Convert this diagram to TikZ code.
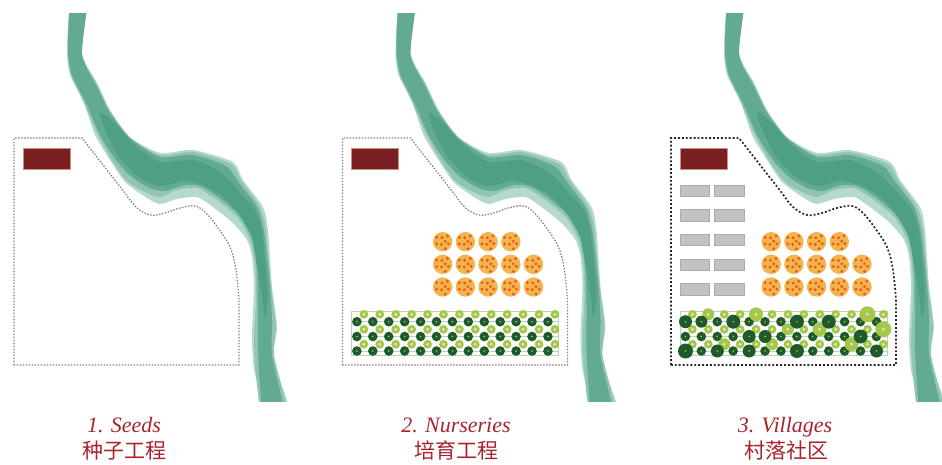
\documentclass[tikz,border=0pt]{standalone}
\usepackage{fontspec}
\setmainfont{Liberation Serif}
\newfontfamily\cjk{Noto Sans CJK SC}
\usetikzlibrary{positioning}

\definecolor{riverA}{HTML}{B6D9CD}
\definecolor{riverB}{HTML}{8FC5B2}
\definecolor{riverC}{HTML}{62AB92}
\definecolor{riverD}{HTML}{4F9F83}
\definecolor{hallred}{HTML}{7A2024}
\definecolor{titlered}{HTML}{A8232C}
\definecolor{treedark}{HTML}{1F5A2A}
\definecolor{treelight}{HTML}{A6C74C}
\definecolor{citrus}{HTML}{F0B64C}

\tikzset{
    river/.pic={
        \begin{scope}
            \clip (55,13) rectangle (300,401);
            \fill[riverA] plot[smooth cycle, tension=0.4] coordinates {
                (71,0) (67,50) (70,75) (83,100) (95,135) (110,160) (125,182) (147,198) (160,204)
                (177,199) (197,197) (213,207) (233,223) (247,240) (252,257) (254,287) (252,337) (254,370) (262,400) (264,420)
                (290,420) (287,400) (273,360) (277,327) (272,287) (268,230) (263,207) (243,180) (233,162)
                (193,150) (160,153) (130,137) (110,110) (97,83) (82,53) (87,0)};
            \fill[riverB] plot[smooth cycle, tension=0.4] coordinates {
                (71,0) (67.5,50) (71,75) (84,103) (97,133) (113,162) (128,182) (147,193) (160,197)
                (177,190) (197,188) (217,200) (238,218) (250,240) (255,265) (256,300) (254,340) (256,375) (263,420)
                (288,420) (284,395) (274,355) (276,325) (271,285) (266,230) (260,207) (241,180) (231,164)
                (193,152) (160,155) (130,138) (110,111) (97,84) (82,54) (87,0)};
            \fill[riverC] plot[smooth cycle, tension=0.4] coordinates {
                (71,0) (68,50) (72,75) (86,103) (100,135) (116,160) (132,177) (150,188) (165,191)
                (185,185) (200,186) (217,196) (238,214) (252,238) (257,270) (258,305) (258,350) (260,385) (264,420)
                (286,420) (281,395) (272,355) (272,320) (270,285) (264,232) (257,207) (239,183) (226,166)
                (193,155) (160,157) (130,138) (110,113) (97,87) (82,55) (87,0)};
            \fill[riverD] plot[smooth cycle, tension=0.4] coordinates {
                (100,113) (106,132) (120,158) (140,178) (160,186) (185,181) (205,186) (222,196) (240,215)
                (252,238) (258,270) (262,295) (265,318)
                (268,295) (266,270) (262,232) (255,210) (238,190) (220,172)
                (193,160) (160,162) (135,145) (112,120)};
        \end{scope}
    },
    site/.pic={
        \draw[pic actions] (14,365) -- (14,138) -- (82,138) -- (125,193)
            -- plot[smooth, tension=0.6] coordinates {(125,193) (136,207) (150,215) (165,213) (180,208) (195,206) (206,213)
                (218,228) (230,247) (236,270) (239,300)}
            -- (239,365) -- cycle;
    },
    hall/.pic={
        \fill[hallred, draw=hallred!60!orange!60] (23,148) rectangle (70,169);
    },
    citrustree/.pic={
        \fill[citrus] (0,0) circle (9.7);
        \foreach \angl/\rad in {20/6, 70/7.5, 115/3, 160/6.5, 215/7.5, 260/4, 310/7.5, 350/2.5}
            \fill[red!55!citrus] (\angl:\rad) circle (1.6);
    },
    orchard/.pic={
        \foreach \col in {0,...,3}
            \pic at ({114.2+22.7*\col},241.7) {citrustree};
        \foreach \col in {0,...,4} {
            \pic at ({114.2+22.7*\col},264.3) {citrustree};
            \pic at ({114.2+22.7*\col},287) {citrustree};
        }
    },
    nursery/.pic={
        \draw[strip, fill=white] (23,311.5) rectangle (230,355.7);
        \foreach \rowy in {321.7,336.5,351}
            \draw[strip] (23,\rowy) -- (230,\rowy);
        \foreach \rowy in {314.3,329.3,344.2}
            \foreach \col in {0,...,12}
                \pic at ({35.4+15.92*\col},\rowy) {lighttree=4.4};
        \foreach \rowy in {321.7,336.5,351}
            \foreach \col in {0,...,12}
                \pic at ({28.4+15.92*\col},\rowy) {darktree=4.8};
    },
    lighttree/.pic={
        \fill[treelight] (0,0) circle (#1);
        \fill[white!65!treelight] (0,0) circle (1.5);
    },
    darktree/.pic={
        \fill[treedark] (0,0) circle (#1);
        \fill[treelight] (0,0) circle (0.9);
    },
    strip/.style={draw=green!30!gray!45, line width=0.8pt},
}

\begin{document}
\begin{tikzpicture}[
        x=1pt, y=-1pt,
        siteline/.style={draw=black!50, line width=1.2pt, dash pattern=on 1.5pt off 1.5pt},
        sitebold/.style={draw=black!85, line width=1.7pt, dash pattern=on 1.9pt off 2pt},
        barn/.style={fill=black!24, draw=black!33, line width=0.8pt},
        title/.style={text=titlered, anchor=base, font=\fontsize{22}{24}\selectfont\itshape},
        subtitle/.style={text=titlered, anchor=base, font=\fontsize{21}{24}\selectfont\cjk}
    ]
    \useasboundingbox (0,0) rectangle (942,464);

    % 1. seeds
    \pic at (0,0) {river};
    \pic[siteline] at (0,0) {site};
    \pic at (0,0) {hall};
    \node[title] (seeds) at (124,432) {1. Seeds};
    \node[subtitle] (seedscn) at (124,458) {种子工程};

    % 2. nurseries
    \pic at (328.5,0) {river};
    \pic[siteline] at (328.5,0) {site};
    \pic at (328.5,0) {hall};
    \pic at (328.5,0) {orchard};
    \pic at (328.5,0) {nursery};
    \node[title] (nurseries) at (456,432) {2. Nurseries};
    \node[subtitle] (nurseriescn) at (456,458) {培育工程};

    % 3. villages
    \pic at (657,0) {river};
    \pic[sitebold] at (657,0) {site};
    \pic at (657,0) {hall};
    \pic at (657,0) {orchard};
    \pic at (657,0) {nursery};
    \foreach \rowy in {185.3,209.8,234,259,283.4} {
        \draw[barn] (680,\rowy) rectangle +(29.5,11.5);
        \draw[barn] (714.5,\rowy) rectangle +(30,11.5);
    }
    % the grown trees
    \foreach \col/\rowy/\rad in {1/314.3/6, 4/314.3/7, 11/314.3/8, 6/329.3/6, 8/329.3/7, 12/329.3/8, 2/344.2/6, 5/344.2/6, 10/344.2/7}
        \pic at ({692.3+15.92*\col},\rowy) {lighttree=\rad};
    \foreach \col/\rowy/\rad in {0/321.7/6.5, 1/321.7/6, 3/321.7/7, 7/321.7/7, 9/321.7/7, 4/336.5/6.5, 5/336.5/6.5, 11/336.5/7, 0/351/7.5, 2/351/6.5, 4/351/6.5, 7/351/7, 12/351/6.5}
        \pic at ({685.5+15.92*\col},\rowy) {darktree=\rad};
    \node[title] (villages) at (785,432) {3. Villages};
    \node[subtitle] (villagescn) at (786,458) {村落社区};
\end{tikzpicture}
\end{document}
